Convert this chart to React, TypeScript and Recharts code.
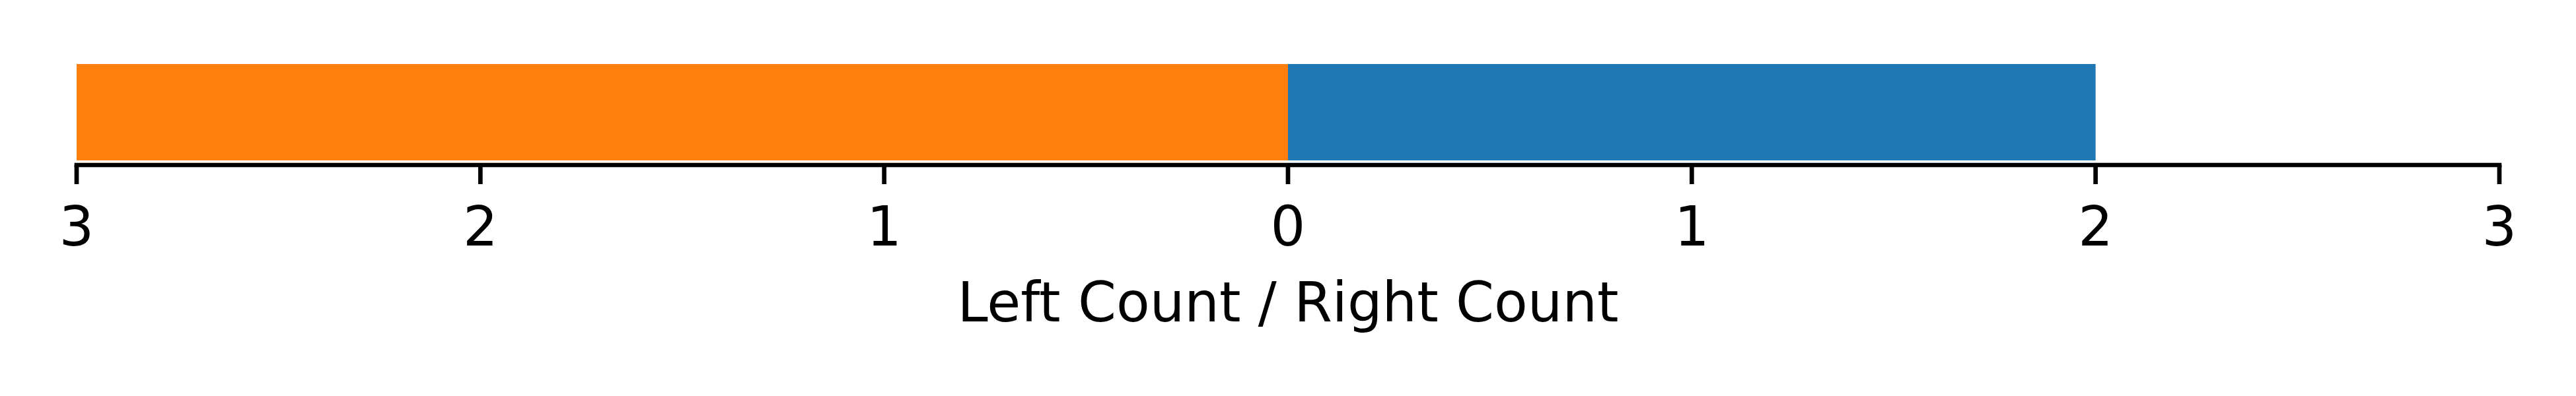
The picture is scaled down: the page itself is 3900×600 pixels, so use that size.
import { BarChart, Bar, XAxis, YAxis } from "recharts";

// one row, left side drawn as negative values
const categories = ["counts"];
const leftCounts = [3];
const rightCounts = [2];
const tickValues = [-3, -2, -1, 0, 1, 2, 3];

const data = categories.map((name, i) => ({ name, left: -leftCounts[i], right: rightCounts[i] }));

const FONT = "DejaVu Sans, sans-serif";

export default function App() {
  return (
    <div style={{ width: 3900, height: 600, background: "#fff" }}>
      <style>{`body{margin:0}`}</style>
      <BarChart
        width={3900}
        height={600}
        data={data}
        layout="vertical"
        stackOffset="sign"
        barCategoryGap={7}
        margin={{ top: 90, right: 116, bottom: 100, left: 116 }}
      >
        <YAxis type="category" dataKey="name" hide />
        <XAxis
          type="number"
          domain={[-3, 3]}
          ticks={tickValues}
          tickFormatter={(v) => String(Math.abs(v))}
          height={250}
          tickSize={29}
          tickMargin={34}
          axisLine={{ stroke: "#000", strokeWidth: 6.7, strokeLinecap: "square" }}
          tickLine={{ stroke: "#000", strokeWidth: 6.7 }}
          tick={{ fill: "#000", fontSize: 83, fontFamily: FONT }}
          label={{
            value: "Left Count / Right Count",
            position: "insideBottom",
            offset: 13,
            fill: "#000",
            fontSize: 83,
            fontFamily: FONT,
          }}
        />
        <Bar dataKey="left" stackId="a" fill="#ff7f0e" isAnimationActive={false} />
        <Bar dataKey="right" stackId="a" fill="#1f77b4" isAnimationActive={false} />
      </BarChart>
    </div>
  );
}
